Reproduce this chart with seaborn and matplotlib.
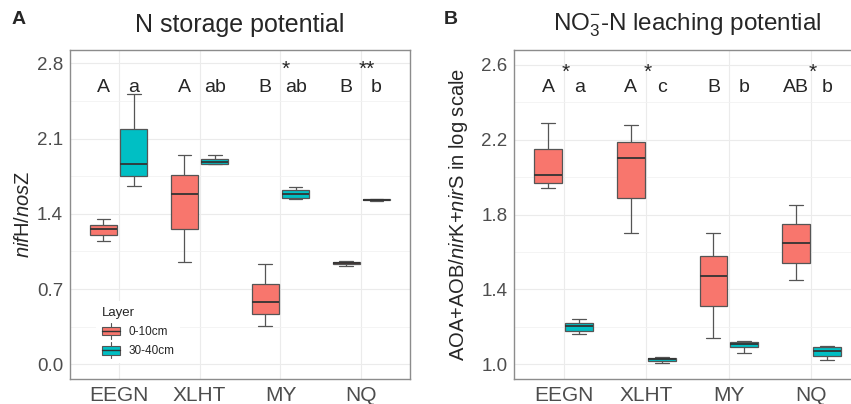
import numpy as np
import pandas as pd
import seaborn as sns
import matplotlib.pyplot as plt
from matplotlib.patches import Patch, Rectangle
from matplotlib.lines import Line2D
from matplotlib.legend_handler import HandlerPatch
from matplotlib.ticker import FixedLocator, FormatStrFormatter

# Sites and layers
sites = ["EEGN", "XLHT", "MY", "NQ"]
layers = ["0-10cm", "30-40cm"]

# five-number summaries (min, q1, median, q3, max)
nstore_top = [[1.15, 1.20, 1.26, 1.30, 1.35],
              [0.95, 1.26, 1.58, 1.76, 1.95],
              [0.36, 0.47, 0.58, 0.75, 0.93],
              [0.91, 0.93, 0.94, 0.95, 0.96]]
nstore_sub = [[1.66, 1.75, 1.86, 2.19, 2.51],
              [1.86, 1.86, 1.88, 1.91, 1.95],
              [1.54, 1.55, 1.58, 1.62, 1.65],
              [1.52, 1.525, 1.53, 1.535, 1.54]]
leach_top = [[1.94, 1.97, 2.01, 2.15, 2.29],
             [1.70, 1.89, 2.10, 2.19, 2.28],
             [1.14, 1.31, 1.47, 1.58, 1.70],
             [1.45, 1.54, 1.65, 1.75, 1.85]]
leach_sub = [[1.16, 1.18, 1.205, 1.22, 1.24],
             [1.005, 1.016, 1.027, 1.034, 1.041],
             [1.06, 1.09, 1.11, 1.118, 1.123],
             [1.02, 1.045, 1.073, 1.09, 1.10]]

# axis ticks
nstore_ticks = [0.0, 0.7, 1.4, 2.1, 2.8]
leach_ticks = [1.0, 1.4, 1.8, 2.2, 2.6]

# letters and significance stars
nstore_letters = [("A", "a"), ("A", "ab"), ("B", "ab"), ("B", "b")]
nstore_stars = ["", "", "*", "**"]
leach_letters = [("A", "a"), ("A", "c"), ("B", "b"), ("AB", "b")]
leach_stars = ["*", "*", "", "*"]


def make_frame(top, sub):
    rows = []
    for s, t, b in zip(sites, top, sub):
        for v in t:
            rows.append((s, layers[0], v))
        for v in b:
            rows.append((s, layers[1], v))
    return pd.DataFrame(rows, columns=["site", "Layer", "value"])


nstore = make_frame(nstore_top, nstore_sub)
leach = make_frame(leach_top, leach_sub)

sns.set_style("white")
plt.rcParams["font.family"] = ["Liberation Sans", "DejaVu Sans"]
plt.rcParams["mathtext.fontset"] = "custom"
plt.rcParams["mathtext.rm"] = "Liberation Sans"
plt.rcParams["mathtext.it"] = "Liberation Sans:italic"

pal = {"0-10cm": "#F8766D", "30-40cm": "#00BFC4"}
edge = "#555555"

fig = plt.figure(figsize=(8.51, 4.04), dpi=100)
ax1 = fig.add_axes([70 / 851, 25 / 404, 340 / 851, 329 / 404])
ax2 = fig.add_axes([514.3 / 851, 25 / 404, 346.7 / 851, 329 / 404])


def draw(ax, df, ticks, letters, stars, ylim, ly, sy, star_dx):
    sns.boxplot(data=df, x="site", y="value", hue="Layer", order=sites,
                hue_order=layers, palette=pal, saturation=1, whis=(0, 100),
                width=0.75, gap=0.1, linecolor=edge, linewidth=0.9,
                medianprops=dict(color="#333333", linewidth=1.3),
                legend=False, ax=ax)
    ax.set_xlim(-0.6, 3.6)
    ax.set_ylim(*ylim)
    ax.yaxis.set_major_locator(FixedLocator(ticks))
    ax.yaxis.set_minor_locator(FixedLocator(
        [(a + b) / 2 for a, b in zip(ticks[:-1], ticks[1:])]))
    ax.yaxis.set_major_formatter(FormatStrFormatter("%.1f"))
    ax.grid(which="major", color="#EBEBEB", lw=0.8)
    ax.grid(which="minor", axis="y", color="#F2F2F2", lw=0.6)
    ax.set_axisbelow(True)
    for sp in ax.spines.values():
        sp.set_color("#8C8C8C")
        sp.set_linewidth(1.0)
    ax.tick_params(axis="both", which="major", length=3, color="#8C8C8C",
                   labelcolor="#4D4D4D", pad=2)
    ax.tick_params(axis="y", labelsize=13.5)
    ax.tick_params(axis="x", labelsize=15)
    ax.set_xlabel("")
    for i, (a, b) in enumerate(letters):
        ax.text(i - 0.1875, ly, a, ha="center", va="baseline", fontsize=14)
        ax.text(i + 0.1875, ly, b, ha="center", va="baseline", fontsize=14)
        if stars[i]:
            ax.text(i + star_dx, sy, stars[i], ha="center", va="baseline",
                    fontsize=15)


draw(ax1, nstore, nstore_ticks, nstore_letters, nstore_stars,
     (-0.137, 2.924), 2.53, 2.69, 0.07)
draw(ax2, leach, leach_ticks, leach_letters, leach_stars,
     (0.921, 2.68), 2.455, 2.53, 0.02)

ax1.set_ylabel(r"$\mathit{nif}\mathrm{H/}\mathit{nos}\mathrm{Z}$",
               fontsize=14.5, labelpad=3)
ax2.set_ylabel(r"AOA+AOB/$\mathit{nir}$K+$\mathit{nir}$S in log scale",
               fontsize=14.5, labelpad=8)
ax1.set_title("N storage potential", fontsize=18, pad=13)
ax2.set_title(r"NO$_3^{-}$-N leaching potential", fontsize=17.5, pad=14)

fig.text(12 / 851, 1 - 11 / 404, "A", fontsize=14, fontweight="bold",
         va="top")
fig.text(444 / 851, 1 - 11 / 404, "B", fontsize=14, fontweight="bold",
         va="top")


class BoxKey(HandlerPatch):
    def create_artists(self, legend, orig_handle, xdescent, ydescent,
                       width, height, fontsize, trans):
        x0, y0 = -xdescent, -ydescent
        cx = x0 + width / 2
        whisk = Line2D([cx, cx], [y0 - 2, y0 + height + 2], color=edge, lw=0.8)
        rect = Rectangle((x0, y0 + height * 0.1), width, height * 0.8,
                         facecolor=orig_handle.get_facecolor(),
                         edgecolor=edge, lw=0.8)
        med = Line2D([x0, x0 + width], [y0 + height / 2] * 2,
                     color="#333333", lw=1.0)
        for a in (whisk, rect, med):
            a.set_transform(trans)
        return [whisk, rect, med]


handles = [Patch(facecolor=pal[l], edgecolor=edge, label=l) for l in layers]
leg = ax1.legend(handles=handles, title="Layer", loc="lower left",
                 bbox_to_anchor=(0.06, 0.03), frameon=True, fontsize=8.5,
                 title_fontsize=9.5, handler_map={Patch: BoxKey()},
                 alignment="left", handlelength=1.5, handleheight=1.0,
                 labelspacing=0.6, borderpad=0.5, handletextpad=0.7)
leg.get_frame().set_facecolor("white")
leg.get_frame().set_edgecolor("none")
leg.get_frame().set_alpha(1)

fig.savefig("out.png", dpi=100)
